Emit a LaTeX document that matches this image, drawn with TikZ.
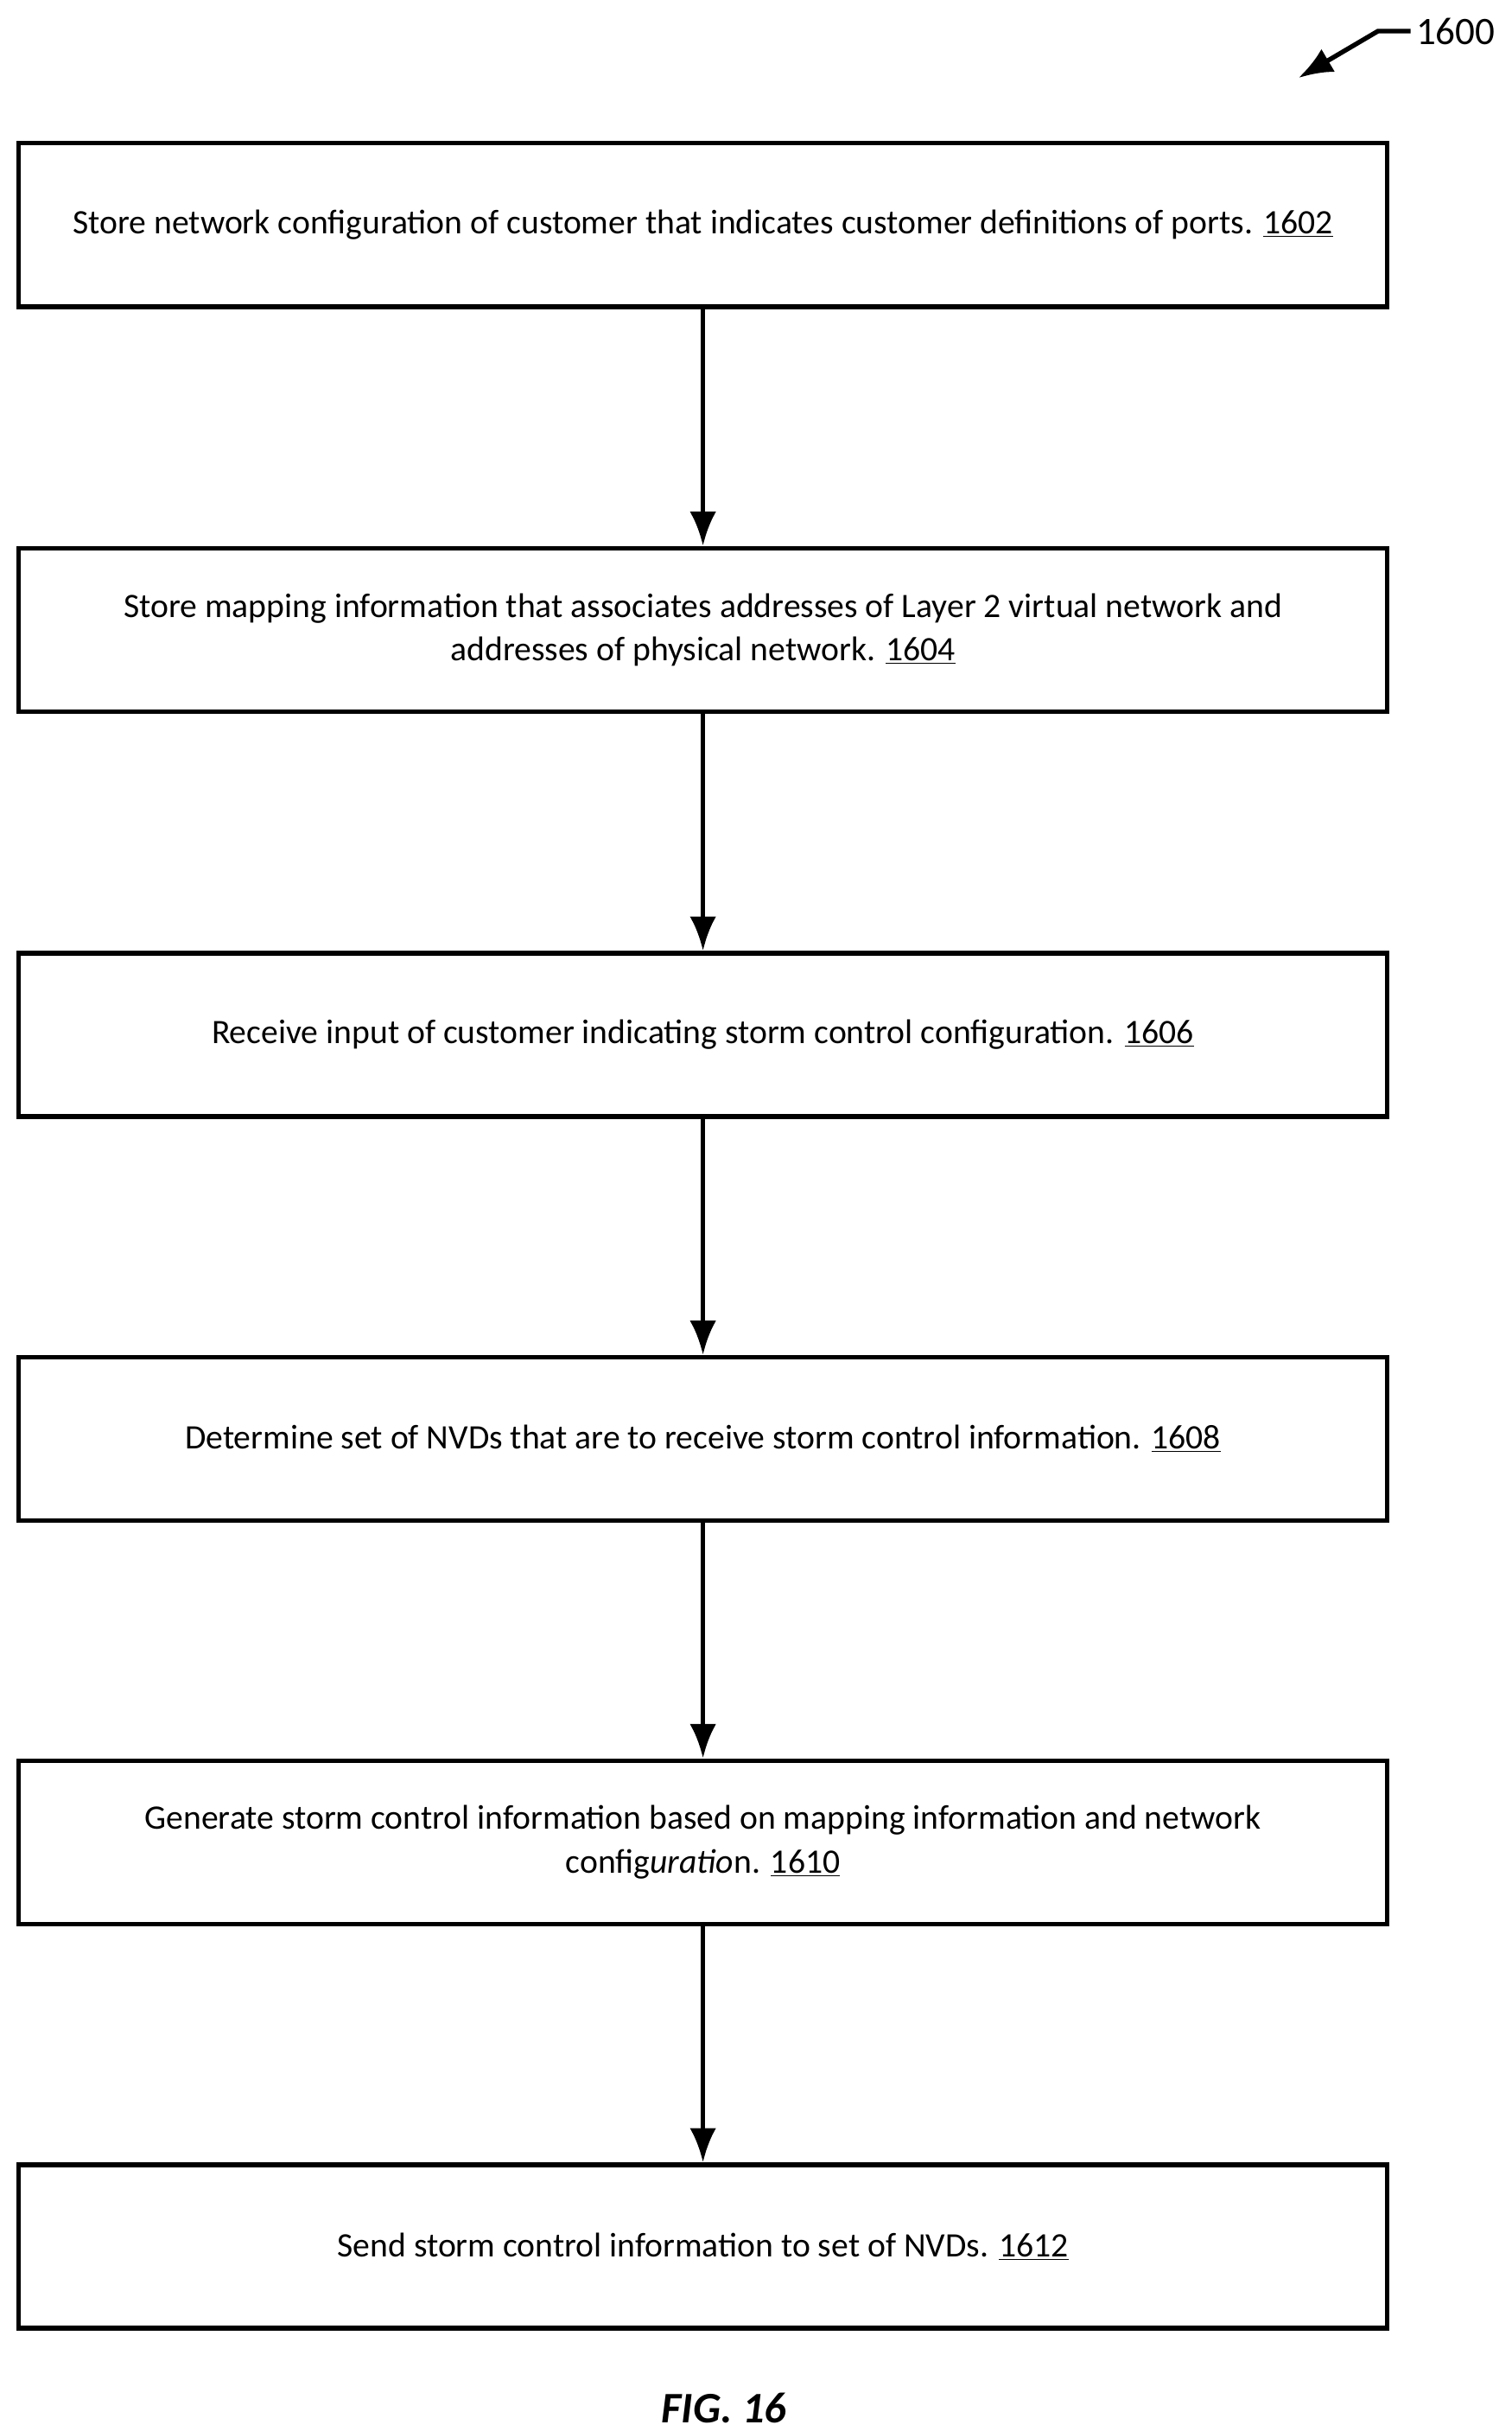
\documentclass[tikz,border=0pt]{standalone}
\usepackage{fontspec}
\setmainfont{Carlito}
\usetikzlibrary{positioning,arrows.meta}
\tikzstyle{stepbox} = [rectangle, draw=black, line width=3pt, minimum height=105pt, minimum width=879pt, align=center, font=\fontsize{22}{28}\selectfont, inner sep=0pt]
\tikzstyle{flow} = [line width=3pt, -{Latex[length=22pt,width=17pt]}]

\begin{document}
\begin{tikzpicture}[x=1pt,y=-1pt]
        \useasboundingbox (0,0) rectangle (971,1561);

        %% steps
        \node (S1) [stepbox] at (451.5,144.5) {Store network configuration of customer that indicates customer definitions of ports. \underline{1602}};
        \node (S2) [stepbox] at (451.5,404.5) {Store mapping information that associates addresses of Layer 2 virtual network and\\ addresses of physical network. \underline{1604}};
        \node (S3) [stepbox] at (451.5,664.5) {Receive input of customer indicating storm control configuration. \underline{1606}};
        \node (S4) [stepbox] at (451.5,924) {Determine set of NVDs that are to receive storm control information. \underline{1608}};
        \node (S5) [stepbox] at (451.5,1183) {Generate storm control information based on mapping information and network\\ config\textit{uratio}n. \underline{1610}};
        \node (S6) [stepbox] at (451.5,1442.5) {Send storm control information to set of NVDs. \underline{1612}};

        %% arrows
        \foreach \a/\b in {S1/S2,S2/S3,S3/S4,S4/S5,S5/S6}
            \draw[flow] (\a) -- (\b);

        %% labels
        \node (fig) [font=\fontsize{28}{32}\selectfont\bfseries\itshape] at (465,1546) {FIG. 16};
        \node (ref) [font=\fontsize{25}{30}\selectfont, anchor=west] at (906,20) {1600};
        \coordinate (tip) at (834,50);
        \draw[flow] (ref.west) -- (885,20) -- (tip);

    \end{tikzpicture}
\end{document}
